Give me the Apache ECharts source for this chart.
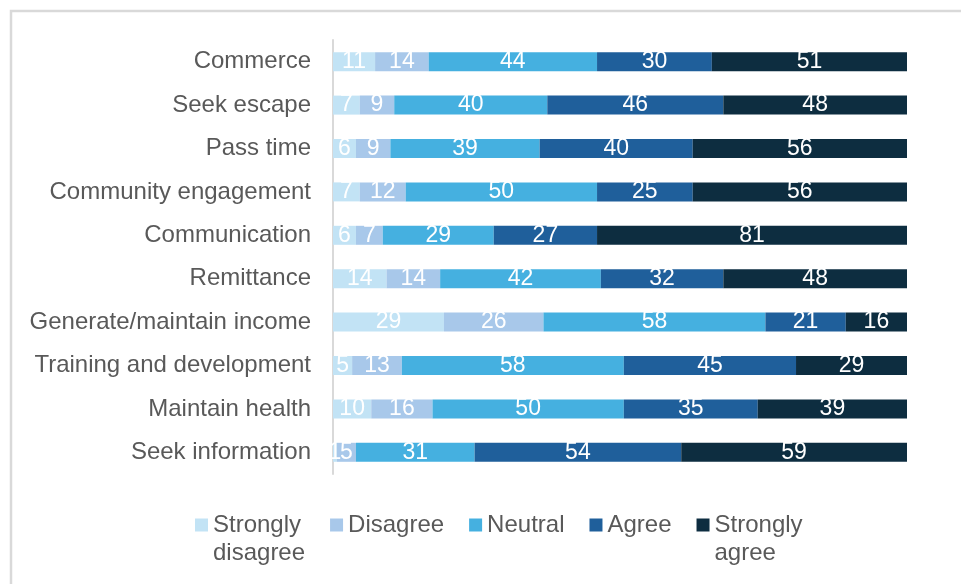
<!DOCTYPE html>
<html>
<head>
<meta charset="utf-8">
<script src="https://cdn.jsdelivr.net/npm/echarts@6/dist/echarts.min.js"></script>
<style>
  html, body { margin: 0; padding: 0; background: #ffffff; }
  #chart { width: 961px; height: 584px; }
</style>
</head>
<body>
<div id="chart"></div>
<script>
// Survey reasons, top to bottom
const categories = [
  'Commerce', 'Seek escape', 'Pass time', 'Community engagement', 'Communication',
  'Remittance', 'Generate/maintain income', 'Training and development',
  'Maintain health', 'Seek information'
];

// Response counts per level, same order as categories
const stronglyDisagree = [11, 7, 6, 7, 6, 14, 29, 5, 10, 1];
const disagree         = [14, 9, 9, 12, 7, 14, 26, 13, 16, 5];
const neutral          = [44, 40, 39, 50, 29, 42, 58, 58, 50, 31];
const agree            = [30, 46, 40, 25, 27, 32, 21, 45, 35, 54];
const stronglyAgree    = [51, 48, 56, 56, 81, 48, 16, 29, 39, 59];

const levels = ['Strongly disagree', 'Disagree', 'Neutral', 'Agree', 'Strongly agree'];
const levelValues = [stronglyDisagree, disagree, neutral, agree, stronglyAgree];
const levelColors = ['#c2e3f5', '#a8c8ea', '#45b0e0', '#1f5f9b', '#0d2d40'];

const FONT = '"Liberation Sans", Arial, sans-serif';

const chart = echarts.init(document.getElementById('chart'), null, { renderer: 'canvas' });

const series = levels.map((name, i) => ({
  name: name,
  type: 'bar',
  stack: 'total',
  barWidth: 19,
  data: levelValues[i],
  itemStyle: { color: levelColors[i] },
  label: {
    show: true,
    position: 'inside',
    color: '#ffffff',
    fontSize: 23,
    fontFamily: FONT
  },
  emphasis: { disabled: true }
}));

chart.setOption({
  animation: false,
  backgroundColor: '#ffffff',
  graphic: [{
    type: 'rect',
    shape: { x: 11, y: 11, width: 1200, height: 1200 },
    style: { fill: 'none', stroke: '#d9d9d9', lineWidth: 2.5 },
    silent: true
  }],
  grid: { left: 333, right: 54, top: 40, bottom: 110 },
  xAxis: {
    type: 'value',
    min: 0,
    max: 150,
    show: false
  },
  yAxis: {
    type: 'category',
    inverse: true,
    data: categories,
    axisLine: { show: true, lineStyle: { color: '#d9d9d9', width: 2 } },
    axisTick: { show: false },
    axisLabel: {
      color: '#595959',
      fontSize: 24,
      fontFamily: FONT,
      margin: 22
    }
  },
  legend: {
    left: 195,
    top: 483,
    padding: 0,
    icon: 'rect',
    itemWidth: 13,
    itemHeight: 13,
    itemGap: 25,
    selectedMode: false,
    textStyle: {
      color: '#595959',
      fontSize: 24,
      fontFamily: FONT,
      lineHeight: 28,
      rich: {
        t: { color: '#595959', fontSize: 24, fontFamily: FONT, lineHeight: 28 }
      }
    },
    // Two-word "Strongly ..." names wrap under the first word; an empty
    // leading line keeps the first word level with the swatch.
    formatter: function (name) {
      if (name.indexOf('Strongly') === 0) {
        const parts = name.split(' ');
        return '{t| }\n{t|' + parts[0] + '}\n{t|' + parts[1] + '}';
      }
      return '{t|' + name + '}';
    },
    data: levels
  },
  series: series
});
</script>
</body>
</html>
